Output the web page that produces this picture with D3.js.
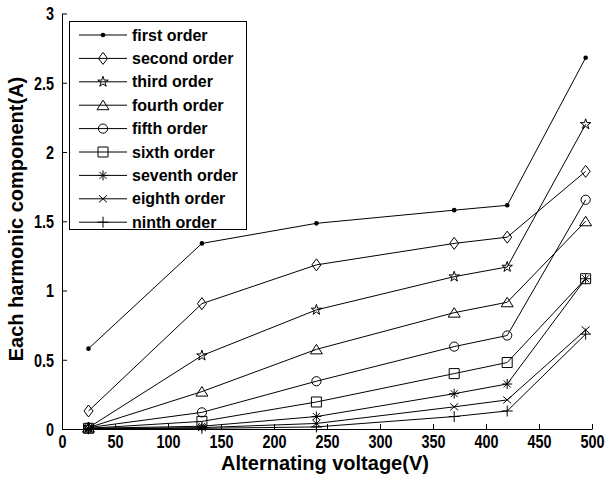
<!DOCTYPE html>
<html>
<head>
<meta charset="utf-8">
<script src="https://cdn.jsdelivr.net/npm/d3@7"></script>
<style>
  body { margin: 0; background: #fff; }
  svg { display: block; font-family: "Liberation Sans", Arial, sans-serif; }
</style>
</head>
<body>
<div id="chart"></div>
<script>
// Data
var voltage = [25, 132, 240, 370, 420, 494];
var firstOrder   = [0.58, 1.34, 1.485, 1.58, 1.615, 2.68];
var secondOrder  = [0.13, 0.905, 1.185, 1.34, 1.385, 1.86];
var thirdOrder   = [0.01, 0.53, 0.86, 1.10, 1.17, 2.20];
var fourthOrder  = [0.01, 0.27, 0.575, 0.84, 0.915, 1.50];
var fifthOrder   = [0.01, 0.12, 0.345, 0.595, 0.675, 1.655];
var sixthOrder   = [0.005, 0.055, 0.195, 0.40, 0.48, 1.085];
var seventhOrder = [0.005, 0.02, 0.09, 0.255, 0.325, 1.085];
var eighthOrder  = [0.003, 0.01, 0.04, 0.16, 0.21, 0.715];
var ninthOrder   = [0.002, 0.005, 0.015, 0.09, 0.13, 0.685];
var seriesNames = ["first order", "second order", "third order", "fourth order", "fifth order",
  "sixth order", "seventh order", "eighth order", "ninth order"];
var xTicks = [0, 50, 100, 150, 200, 250, 300, 350, 400, 450, 500];
var yTicks = [0, 0.5, 1, 1.5, 2, 2.5, 3];

var allSeries = [firstOrder, secondOrder, thirdOrder, fourthOrder, fifthOrder,
  sixthOrder, seventhOrder, eighthOrder, ninthOrder];
var markers = ["dot", "diamond", "star", "triangle", "circle", "square", "asterisk", "cross", "plus"];

var svgWidth = 606;
var svgHeight = 479;

var svg = d3.select("#chart")
  .append("svg")
  .attr("width", svgWidth)
  .attr("height", svgHeight);

// scales
var xScale = d3.scaleLinear().domain([0, 500]).range([62, 592]);
var yScale = d3.scaleLinear().domain([0, 3]).range([429, 13.5]);

// marker paths (MATLAB style)
function markerPath(type) {
  var p = d3.path();
  if (type === "diamond") {
    p.moveTo(0, -6); p.lineTo(4.5, 0); p.lineTo(0, 6); p.lineTo(-4.5, 0); p.closePath();
    return p.toString();
  }
  if (type === "star") {
    return d3.symbol().type(d3.symbolStar).size(34)();
  }
  if (type === "triangle") {
    p.moveTo(0, -5); p.lineTo(6, 4.5); p.lineTo(-6, 4.5); p.closePath();
    return p.toString();
  }
  if (type === "square") {
    p.rect(-5, -5, 10, 10);
    return p.toString();
  }
  if (type === "asterisk") {
    p.moveTo(0, -5); p.lineTo(0, 5);
    p.moveTo(-5, 0); p.lineTo(5, 0);
    p.moveTo(-3.5, -3.5); p.lineTo(3.5, 3.5);
    p.moveTo(-3.5, 3.5); p.lineTo(3.5, -3.5);
    return p.toString();
  }
  if (type === "cross") {
    p.moveTo(-4, -3.5); p.lineTo(4, 3.5);
    p.moveTo(-4, 3.5); p.lineTo(4, -3.5);
    return p.toString();
  }
  if (type === "plus") {
    p.moveTo(0, -5.5); p.lineTo(0, 5.5);
    p.moveTo(-5.5, 0); p.lineTo(5.5, 0);
    return p.toString();
  }
  return null;
}

function drawMarker(g, type) {
  if (type === "dot") {
    g.append("circle").attr("r", 2.3).attr("fill", "#000");
  } else if (type === "circle") {
    g.append("circle").attr("r", 4.6).attr("fill", "none").attr("stroke", "#000");
  } else {
    g.append("path").attr("d", markerPath(type))
      .attr("fill", "none").attr("stroke", "#000").attr("stroke-width", 1);
  }
}

// axes (ticks point inward)
var bottomAxis = d3.axisBottom(xScale).tickValues(xTicks).tickSizeInner(-5).tickSizeOuter(0)
  .tickFormat(d3.format("~g"));
var leftAxis = d3.axisLeft(yScale).tickValues(yTicks).tickSizeInner(-5).tickSizeOuter(0)
  .tickFormat(d3.format("~g"));

var xAxisG = svg.append("g")
  .attr("transform", "translate(0, 429)")
  .call(bottomAxis);
var yAxisG = svg.append("g")
  .attr("transform", "translate(62, 0)")
  .call(leftAxis);

svg.selectAll(".domain, .tick line").attr("stroke", "#000").attr("stroke-width", 1);

xAxisG.selectAll(".tick text")
  .attr("y", 0).attr("dy", 0)
  .attr("transform", "translate(0, 19) scale(0.8, 1)")
  .style("font-size", "18px")
  .style("font-weight", "bold")
  .style("font-family", "'Liberation Sans', Arial, sans-serif")
  .attr("fill", "#000");

yAxisG.selectAll(".tick text")
  .attr("x", 0).attr("dy", "0.36em")
  .attr("transform", "translate(-8, 0) scale(0.8, 1)")
  .style("font-size", "18px")
  .style("font-weight", "bold")
  .style("font-family", "'Liberation Sans', Arial, sans-serif")
  .attr("fill", "#000");

// lines
var line = d3.line()
  .x(function(d, i) { return xScale(voltage[i]); })
  .y(function(d) { return yScale(d); });

allSeries.forEach(function(values, s) {
  svg.append("path")
    .datum(values)
    .attr("d", line)
    .attr("fill", "none")
    .attr("stroke", "#000")
    .attr("stroke-width", 1);

  svg.selectAll(".m" + s)
    .data(values)
    .enter()
    .append("g")
    .attr("class", "m" + s)
    .attr("transform", function(d, i) {
      return "translate(" + xScale(voltage[i]) + "," + yScale(d) + ")";
    })
    .each(function() { drawMarker(d3.select(this), markers[s]); });
});

// legend
var legend = svg.append("g");
legend.append("rect")
  .attr("x", 69.5).attr("y", 21.5)
  .attr("width", 177).attr("height", 208)
  .attr("fill", "#fff").attr("stroke", "#000");

seriesNames.forEach(function(name, i) {
  var ly = 35 + i * 23.4;
  var row = legend.append("g").attr("transform", "translate(0," + ly + ")");
  row.append("line")
    .attr("x1", 79).attr("x2", 127).attr("y1", 0).attr("y2", 0)
    .attr("stroke", "#000");
  var mk = row.append("g").attr("transform", "translate(103,0)");
  drawMarker(mk, markers[i]);
  row.append("text")
    .attr("x", 132).attr("y", 5.5)
    .text(name)
    .style("font-size", "16px")
    .style("font-weight", "bold");
});

// axes labels
svg.append("text")
  .attr("transform", "translate(23, 219) rotate(-90)")
  .attr("text-anchor", "middle")
  .text("Each harmonic component(A)")
  .style("font-size", "20px")
  .style("font-weight", "bold");

svg.append("text")
  .attr("x", 325).attr("y", 470)
  .attr("text-anchor", "middle")
  .text("Alternating voltage(V)")
  .style("font-size", "20px")
  .style("font-weight", "bold");
</script>
</body>
</html>
